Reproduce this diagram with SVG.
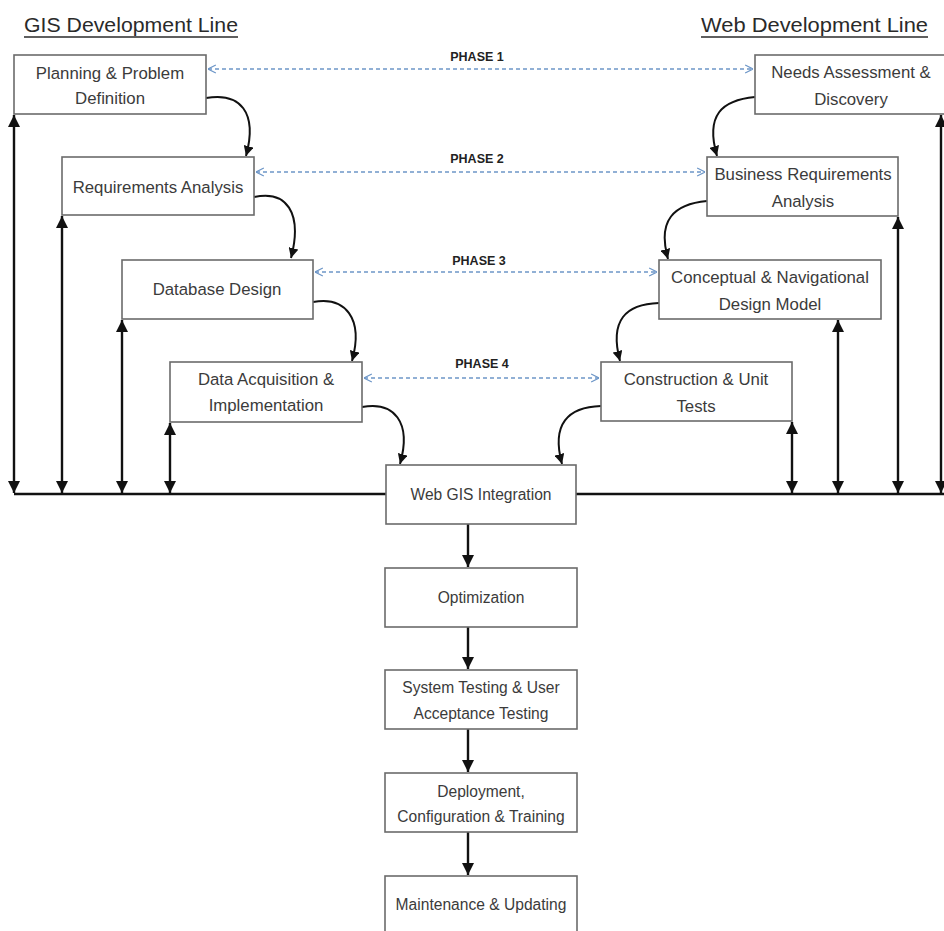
<svg xmlns="http://www.w3.org/2000/svg" width="944" height="931" viewBox="0 0 944 931">
<style>
.box{fill:#fff;stroke:#6b6b6b;stroke-width:1.6}
.t{font-family:"Liberation Sans",Arial,sans-serif;font-size:16.8px;fill:#3b3b3b;text-anchor:middle}
.b{font-size:15.6px}
.title{font-family:"Liberation Sans",Arial,sans-serif;font-size:21px;fill:#2a2a2a}
.ph{font-family:"Liberation Sans",Arial,sans-serif;font-size:12.5px;font-weight:bold;fill:#222;text-anchor:middle}
.ln{fill:none;stroke:#111;stroke-width:2.4}
.dbl{fill:none;stroke:#111;stroke-width:2.4;marker-start:url(#ah);marker-end:url(#ah)}
.one{fill:none;stroke:#111;stroke-width:2.4;marker-end:url(#ah)}
.crv{fill:none;stroke:#111;stroke-width:2;marker-end:url(#ah)}
.dash{fill:none;stroke:#6d96c8;stroke-width:1.4;stroke-dasharray:4 3;marker-start:url(#oa);marker-end:url(#oa)}
</style>
<defs>
<marker id="ah" viewBox="0 0 10 10" refX="10" refY="5" markerWidth="5" markerHeight="5" orient="auto-start-reverse" markerUnits="strokeWidth">
<path d="M0,0 L10,5 L0,10 z" fill="#111"/>
</marker>
<marker id="oa" viewBox="0 0 10 10" refX="10" refY="5" markerWidth="7" markerHeight="7" orient="auto-start-reverse" markerUnits="strokeWidth">
<path d="M2,1 L10,5 L2,9" fill="none" stroke="#6d96c8" stroke-width="1.2"/>
</marker>
</defs>
<rect width="944" height="931" fill="#fff"/>

<g id="titles">
<text class="title" x="24" y="32" textLength="214" lengthAdjust="spacingAndGlyphs">GIS Development Line</text>
<line x1="24" y1="37" x2="238" y2="37" stroke="#2a2a2a" stroke-width="1.3"/>
<text class="title" x="701" y="32" textLength="227" lengthAdjust="spacingAndGlyphs">Web Development Line</text>
<line x1="701" y1="37" x2="928" y2="37" stroke="#2a2a2a" stroke-width="1.3"/>
</g>

<g id="connectors">
<path class="ln" d="M14,494 H386"/>
<path class="ln" d="M576,494 H944"/>
<path class="dbl" d="M14,115 V493"/>
<path class="dbl" d="M62,216 V493"/>
<path class="dbl" d="M122,320 V493"/>
<path class="dbl" d="M170,423 V493"/>
<path class="dbl" d="M792,422 V493"/>
<path class="dbl" d="M838,320 V493"/>
<path class="dbl" d="M898,217 V493"/>
<path class="dbl" d="M941,115 V493"/>
<path class="crv" d="M206,98 C240,92 258,112 246,156"/>
<path class="crv" d="M254,197 C286,190 303,212 291,258"/>
<path class="crv" d="M313,302 C345,296 364,318 352,361"/>
<path class="crv" d="M362,407 C394,401 412,422 400,464"/>
<path class="crv" d="M755,97 C722,100 705,115 717,156"/>
<path class="crv" d="M707,201 C674,204 657,220 668,259"/>
<path class="crv" d="M659,303 C626,304 609,320 620,361"/>
<path class="crv" d="M601,406 C568,407 551,424 562,464"/>
<path class="one" d="M468,524 V567"/>
<path class="one" d="M468,627 V669"/>
<path class="one" d="M468,729 V772"/>
<path class="one" d="M468,832 V875"/>
<path class="dash" d="M208,69 H753"/>
<path class="dash" d="M256,172 H705"/>
<path class="dash" d="M315,272 H657"/>
<path class="dash" d="M364,378 H599"/>
</g>

<g id="phase-labels">
<text class="ph" x="477" y="61">PHASE 1</text>
<text class="ph" x="477" y="163">PHASE 2</text>
<text class="ph" x="479" y="265">PHASE 3</text>
<text class="ph" x="482" y="368">PHASE 4</text>
</g>

<g id="planning">
<rect class="box" x="14" y="55" width="192" height="59"/>
<text class="t" x="110" y="79">Planning &amp; Problem</text>
<text class="t" x="110" y="104">Definition</text>
</g>
<g id="requirements">
<rect class="box" x="62" y="157" width="192" height="58"/>
<text class="t" x="158" y="193">Requirements Analysis</text>
</g>
<g id="database">
<rect class="box" x="122" y="260" width="191" height="59"/>
<text class="t" x="217" y="295">Database Design</text>
</g>
<g id="data-acquisition">
<rect class="box" x="170" y="362" width="192" height="60"/>
<text class="t" x="266" y="385">Data Acquisition &amp;</text>
<text class="t" x="266" y="411">Implementation</text>
</g>
<g id="needs">
<rect class="box" x="755" y="55" width="195" height="59"/>
<text class="t" x="851" y="78">Needs Assessment &amp;</text>
<text class="t" x="851" y="105">Discovery</text>
</g>
<g id="business">
<rect class="box" x="707" y="157" width="191" height="59"/>
<text class="t" x="803" y="180">Business Requirements</text>
<text class="t" x="803" y="207">Analysis</text>
</g>
<g id="conceptual">
<rect class="box" x="659" y="260" width="222" height="59"/>
<text class="t" x="770" y="283">Conceptual &amp; Navigational</text>
<text class="t" x="770" y="310">Design Model</text>
</g>
<g id="construction">
<rect class="box" x="601" y="362" width="191" height="59"/>
<text class="t" x="696" y="385">Construction &amp; Unit</text>
<text class="t" x="696" y="412">Tests</text>
</g>
<g id="web-gis">
<rect class="box" x="386" y="465" width="190" height="59"/>
<text class="t b" x="481" y="500">Web GIS Integration</text>
</g>
<g id="optimization">
<rect class="box" x="385" y="568" width="192" height="59"/>
<text class="t b" x="481" y="603">Optimization</text>
</g>
<g id="system-testing">
<rect class="box" x="385" y="670" width="192" height="59"/>
<text class="t b" x="481" y="693">System Testing &amp; User</text>
<text class="t b" x="481" y="719">Acceptance Testing</text>
</g>
<g id="deployment">
<rect class="box" x="385" y="773" width="192" height="59"/>
<text class="t b" x="481" y="797">Deployment,</text>
<text class="t b" x="481" y="822">Configuration &amp; Training</text>
</g>
<g id="maintenance">
<rect class="box" x="385" y="876" width="192" height="70"/>
<text class="t b" x="481" y="910">Maintenance &amp; Updating</text>
</g>
</svg>
